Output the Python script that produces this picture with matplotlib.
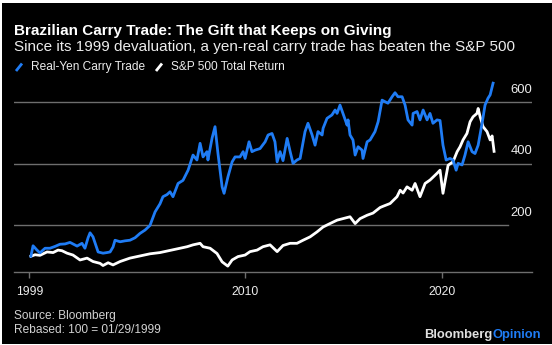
import matplotlib
matplotlib.use("Agg")
import matplotlib.pyplot as plt
from matplotlib.patches import Rectangle
from matplotlib.lines import Line2D

# --- data ---------------------------------------------------------------
carry_years = [1999.08, 1999.19, 1999.39, 1999.54, 1999.80, 2000.05, 2000.31, 2000.56,
               2000.82, 2001.07, 2001.22, 2001.43, 2001.68, 2001.83, 2001.99, 2002.09,
               2002.24, 2002.39, 2002.50, 2002.75, 2002.95, 2003.11, 2003.26, 2003.36,
               2003.62, 2003.87, 2004.12, 2004.38, 2004.63, 2004.89, 2005.14, 2005.40,
               2005.65, 2005.80, 2006.01, 2006.16, 2006.31, 2006.57, 2006.82, 2007.08,
               2007.33, 2007.53, 2007.69, 2007.84, 2008.04, 2008.09, 2008.30, 2008.45,
               2008.60, 2008.81, 2008.91, 2009.11, 2009.32, 2009.47, 2009.72, 2009.88,
               2009.98, 2010.18, 2010.33, 2010.49, 2010.74, 2011.00, 2011.15, 2011.35,
               2011.50, 2011.61, 2011.76, 2011.91, 2012.12, 2012.27, 2012.42, 2012.62,
               2012.78, 2013.03, 2013.18, 2013.39, 2013.54, 2013.69, 2013.90, 2013.95,
               2014.15, 2014.40, 2014.56, 2014.66, 2014.81, 2014.96, 2015.17, 2015.22,
               2015.32, 2015.47, 2015.58, 2015.73, 2015.93, 2015.98, 2016.19, 2016.34,
               2016.59, 2016.75, 2016.95, 2017.10, 2017.25, 2017.46, 2017.61, 2017.76,
               2017.97, 2018.12, 2018.27, 2018.48, 2018.53, 2018.73, 2018.88, 2019.04,
               2019.24, 2019.39, 2019.54, 2019.75, 2019.90, 2020.05, 2020.21, 2020.41,
               2020.56, 2020.72, 2020.82, 2021.02, 2021.17, 2021.33, 2021.53, 2021.68,
               2021.84, 2022.04, 2022.19, 2022.34, 2022.45, 2022.60]
carry_values = [100, 134, 120, 111, 126, 126, 132, 139,
                140, 145, 140, 133, 142, 126, 160, 176,
                163, 135, 114, 110, 112, 114, 130, 152,
                147, 150, 152, 160, 174, 185, 200, 244,
                270, 293, 300, 309, 293, 336, 346, 379,
                428, 412, 466, 422, 439, 412, 483, 520,
                433, 325, 304, 358, 406, 422, 422, 439,
                417, 471, 439, 444, 449, 471, 493, 498,
                471, 406, 439, 410, 482, 440, 401, 412,
                417, 504, 531, 493, 460, 504, 493, 515,
                547, 558, 574, 563, 590, 563, 525, 542,
                493, 477, 428, 455, 444, 417, 471, 477,
                504, 536, 606, 601, 596, 617, 630, 617,
                617, 590, 542, 525, 563, 569, 542, 574,
                542, 563, 531, 542, 540, 460, 412, 417,
                412, 379, 401, 396, 428, 471, 439, 433,
                460, 531, 590, 612, 623, 661]

spx_years = [1999.08, 1999.29, 1999.54, 1999.90, 2000.21, 2000.46, 2000.66, 2000.92,
             2001.22, 2001.58, 2001.94, 2002.24, 2002.60, 2002.75, 2003.01, 2003.26,
             2003.62, 2004.12, 2004.63, 2005.14, 2005.65, 2006.16, 2006.67, 2007.03,
             2007.33, 2007.69, 2007.84, 2008.20, 2008.55, 2008.81, 2009.10, 2009.32,
             2009.62, 2009.98, 2010.23, 2010.59, 2010.89, 2011.25, 2011.61, 2011.91,
             2012.27, 2012.62, 2012.93, 2013.29, 2013.64, 2013.95, 2014.30, 2014.66,
             2014.96, 2015.32, 2015.58, 2015.83, 2016.19, 2016.49, 2016.85, 2017.00,
             2017.36, 2017.71, 2017.87, 2018.02, 2018.22, 2018.48, 2018.63, 2018.88,
             2019.14, 2019.39, 2019.75, 2019.90, 2020.05, 2020.15, 2020.31, 2020.56,
             2020.77, 2020.92, 2021.07, 2021.27, 2021.43, 2021.58, 2021.78, 2021.84,
             2021.94, 2022.09, 2022.29, 2022.45, 2022.55, 2022.65]
spx_values = [100, 105, 103, 114, 112, 120, 118, 110,
              104, 88, 94, 83, 77, 70, 79, 72,
              83, 94, 101, 108, 112, 119, 126, 131,
              137, 142, 131, 126, 109, 82, 68, 88,
              99, 104, 115, 120, 131, 137, 115, 135,
              142, 142, 152, 163, 179, 195, 206, 217,
              222, 228, 206, 222, 233, 240, 258, 262,
              271, 293, 314, 305, 325, 314, 336, 293,
              336, 347, 369, 379, 304, 340, 395, 406,
              439, 455, 477, 498, 536, 552, 563, 579,
              552, 520, 504, 477, 490, 440]

gridlines = [200, 400, 600]
year_ticks = [1999, 2010, 2020]

# --- styling --------------------------------------------------------------
W, H, DPI = 552, 345, 100
FONT = "Liberation Sans"
BLUE = "#1f7cf5"
GRID = "#6e6e6e"
TXT = "#ececec"

plt.rcParams["font.family"] = [FONT, "DejaVu Sans"]

fig = plt.figure(figsize=(W / DPI, H / DPI), dpi=DPI, facecolor="white")


def fx(px):
    return px / W


def fy(py):
    return 1 - py / H


# black card with a thin white margin
fig.patches.append(Rectangle((fx(2), fy(344)), fx(550), 341 / H,
                             transform=fig.transFigure, facecolor="black",
                             edgecolor="none", zorder=-10))

left, right = 14, 532
top, bottom = 77.3, 271.7
ax = fig.add_axes([fx(left), fy(bottom), fx(right - left), (bottom - top) / H])
ax.set_facecolor("none")
ax.set_xlim(1998.22, 2024.58)
ax.set_ylim(50, 680)

for s in ["top", "right", "left"]:
    ax.spines[s].set_visible(False)
ax.spines["bottom"].set_color(GRID)
ax.spines["bottom"].set_linewidth(1.0)

# horizontal rules; the lowest one stops short of its label
for g in gridlines:
    xmax = 1.0 if g >= 400 else (508 - left) / (right - left)
    ax.axhline(g, xmin=0, xmax=xmax, color=GRID, lw=1.0, zorder=1)
    ax.annotate(str(g), xy=(1.0, g), xycoords=("axes fraction", "data"),
                xytext=(0, 8.8), textcoords="offset points",
                ha="right", va="center", color=TXT, fontsize=9.4)

ax.set_yticks([])
ax.set_xticks(year_ticks)
ax.set_xticklabels([str(y) for y in year_ticks])
ax.tick_params(axis="x", colors=GRID, length=4, width=1.0, pad=6,
               labelcolor=TXT, labelsize=8.8, direction="out")

ax.plot(spx_years, spx_values, color="white", lw=2.0, zorder=3,
        solid_joinstyle="round")
ax.plot(carry_years, carry_values, color=BLUE, lw=2.0, zorder=4,
        solid_joinstyle="round")

# headings
fig.text(fx(14), fy(30.7), "Brazilian Carry Trade: The Gift that Keeps on Giving",
         color="white", fontsize=11, fontweight="bold", ha="left", va="center")
fig.text(fx(14), fy(46.5),
         "Since its 1999 devaluation, a yen-real carry trade has beaten the S&P 500",
         color=TXT, fontsize=11, ha="left", va="center")

# legend
for x0, col, label in [(16, BLUE, "Real-Yen Carry Trade"),
                       (156, "white", "S&P 500 Total Return")]:
    fig.add_artist(Line2D([fx(x0), fx(x0 + 6)], [fy(71), fy(63.5)],
                          transform=fig.transFigure, color=col, lw=2.0,
                          solid_capstyle="butt"))
    fig.text(fx(x0 + 15), fy(67.3), label, color=TXT, fontsize=8.6,
             ha="left", va="center")

# footer
fig.text(fx(14), fy(316.5), "Source: Bloomberg", color="#d2d2d2", fontsize=8.6,
         ha="left", va="center")
fig.text(fx(14), fy(330), "Rebased: 100 = 01/29/1999", color="#d2d2d2", fontsize=8.6,
         ha="left", va="center")

t1 = fig.text(fx(424), fy(335), "Bloomberg", color="#e0e0e0", fontsize=9.4,
              fontweight="bold", ha="left", va="center")
fig.canvas.draw()
bb = t1.get_window_extent()
fig.text(bb.x1 / W, fy(335), "Opinion", color=BLUE, fontsize=9.4,
         fontweight="bold", ha="left", va="center")

fig.savefig("out.png", dpi=DPI, facecolor="white")
